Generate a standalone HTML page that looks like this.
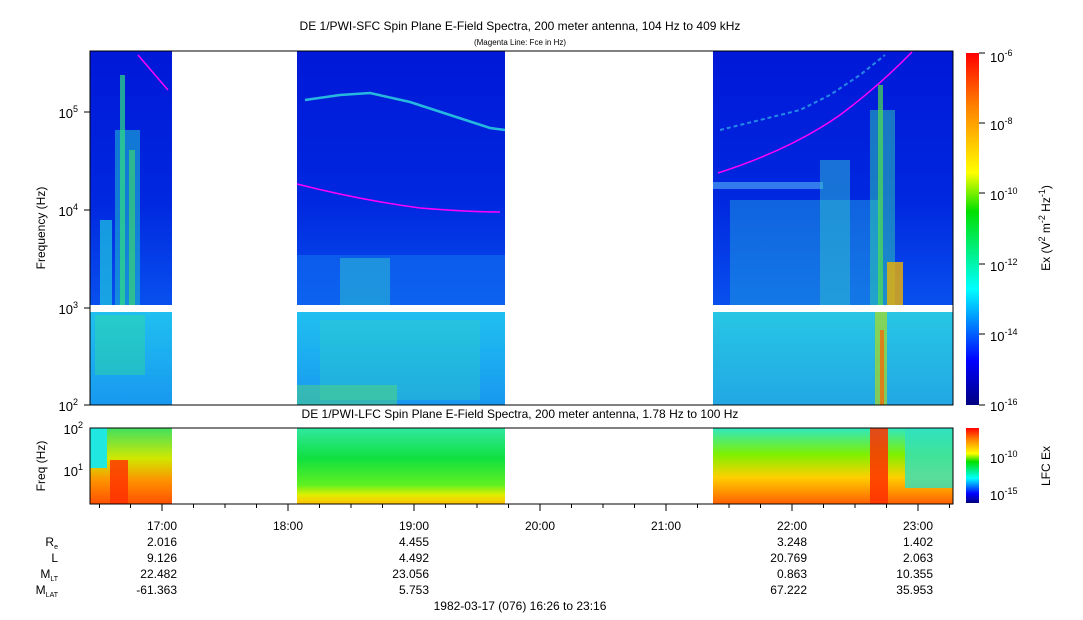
<!DOCTYPE html>
<html><head><style>
body{margin:0;background:#fff;}
svg{display:block;font-family:"Liberation Sans",sans-serif;}
</style></head><body>
<svg width="1083" height="620" viewBox="0 0 1083 620" xmlns="http://www.w3.org/2000/svg">
<defs>
<linearGradient id="cb" x1="0" y1="1" x2="0" y2="0">
<stop offset="0" stop-color="#000080"/><stop offset="0.125" stop-color="#0000ff"/>
<stop offset="0.33" stop-color="#00ffff"/><stop offset="0.55" stop-color="#00e000"/>
<stop offset="0.66" stop-color="#ffff00"/><stop offset="0.85" stop-color="#ff8000"/>
<stop offset="1" stop-color="#ff0000"/></linearGradient>
<linearGradient id="topbg" x1="0" y1="0" x2="0" y2="1">
<stop offset="0" stop-color="#0018d8"/><stop offset="0.6" stop-color="#0028e0"/><stop offset="1" stop-color="#0850ee"/></linearGradient>
<linearGradient id="lowbg" x1="0" y1="0" x2="0" y2="1">
<stop offset="0" stop-color="#20c0f0"/><stop offset="1" stop-color="#1898f0"/></linearGradient>
<linearGradient id="lfc" x1="0" y1="0" x2="0" y2="1">
<stop offset="0" stop-color="#30e8a0"/><stop offset="0.4" stop-color="#10e040"/><stop offset="0.75" stop-color="#60f020"/><stop offset="0.88" stop-color="#e0f000"/><stop offset="1" stop-color="#ffc000"/></linearGradient>
<linearGradient id="lfc1" x1="0" y1="0" x2="0" y2="1">
<stop offset="0" stop-color="#40e060"/><stop offset="0.4" stop-color="#d0e800"/><stop offset="0.7" stop-color="#ff9000"/><stop offset="1" stop-color="#ff5000"/></linearGradient>
<linearGradient id="lfc3" x1="0" y1="0" x2="0" y2="1">
<stop offset="0" stop-color="#30e8c0"/><stop offset="0.35" stop-color="#80f000"/><stop offset="0.65" stop-color="#ffd000"/><stop offset="1" stop-color="#ff6000"/></linearGradient>
</defs>
<text x="520" y="30" font-size="12" text-anchor="middle">DE 1/PWI-SFC  Spin Plane E-Field Spectra, 200 meter antenna, 104 Hz to 409 kHz</text>
<text x="520" y="45" font-size="8" text-anchor="middle">(Magenta Line: Fce in Hz)</text>
<g>
<rect x="90" y="51" width="82" height="254" fill="url(#topbg)"/>
<rect x="297" y="51" width="208" height="254" fill="url(#topbg)"/>
<rect x="713" y="51" width="240" height="254" fill="url(#topbg)"/>
<rect x="90" y="312" width="82" height="93" fill="url(#lowbg)"/>
<rect x="297" y="312" width="208" height="93" fill="url(#lowbg)"/>
<rect x="713" y="312" width="240" height="93" fill="url(#lowbg)"/>
<rect x="100" y="220" width="12" height="85" fill="#20c8e0" opacity="0.7"/>
<rect x="115" y="130" width="25" height="175" fill="#20c0d0" opacity="0.55"/>
<rect x="120" y="75" width="5" height="230" fill="#30e080" opacity="0.7"/>
<rect x="129" y="150" width="6" height="155" fill="#40e060" opacity="0.6"/>
<rect x="95" y="315" width="50" height="60" fill="#30e090" opacity="0.4"/>
<rect x="297" y="255" width="208" height="50" fill="#1070f0" opacity="0.6"/>
<rect x="340" y="258" width="50" height="47" fill="#30c8d0" opacity="0.5"/>
<rect x="320" y="320" width="160" height="80" fill="#30d0c0" opacity="0.35"/>
<rect x="297" y="385" width="100" height="20" fill="#60e060" opacity="0.4"/>
<rect x="713" y="182" width="110" height="7" fill="#4090f0" opacity="0.8"/>
<rect x="730" y="200" width="150" height="105" fill="#20a0e0" opacity="0.5"/>
<rect x="820" y="160" width="30" height="145" fill="#30c0d0" opacity="0.5"/>
<rect x="870" y="110" width="25" height="195" fill="#30d0b0" opacity="0.5"/>
<rect x="878" y="85" width="5" height="220" fill="#50e050" opacity="0.7"/>
<rect x="887" y="262" width="16" height="43" fill="#f0b000" opacity="0.8"/>
<rect x="713" y="312" width="240" height="93" fill="#40d8c0" opacity="0.25"/>
<rect x="875" y="312" width="12" height="93" fill="#c0e000" opacity="0.6"/>
<rect x="880" y="330" width="4" height="75" fill="#ff6000" opacity="0.7"/>
<path d="M305 100 L340 95 L370 93 L410 102 L450 115 L490 128 L505 130" stroke="#30e0e0" stroke-width="2.5" fill="none" opacity="0.8"/>
<path d="M720 130 L760 120 L800 110 L830 95 L860 75 L885 55" stroke="#40d0f0" stroke-width="2" fill="none" opacity="0.6" stroke-dasharray="4 3"/>
<path d="M138 55 Q155 75 168 90" stroke="#ff00ff" stroke-width="1.5" fill="none"/>
<path d="M297 184 Q360 200 420 208 Q470 212 500 212" stroke="#ff00ff" stroke-width="1.5" fill="none"/>
<path d="M718 173 Q790 150 840 115 Q880 85 912 52" stroke="#ff00ff" stroke-width="1.5" fill="none"/>
</g>
<rect x="90" y="305" width="863" height="7" fill="#fff"/>
<rect x="90" y="51" width="863" height="354" fill="none" stroke="#000" stroke-width="1"/>
<g font-size="13" text-anchor="end">
<text x="78" y="118">10<tspan font-size="9" dy="-6">5</tspan></text>
<text x="78" y="216">10<tspan font-size="9" dy="-6">4</tspan></text>
<text x="78" y="314">10<tspan font-size="9" dy="-6">3</tspan></text>
<text x="78" y="411">10<tspan font-size="9" dy="-6">2</tspan></text>
</g>
<g stroke="#000">
<line x1="84" y1="112" x2="90" y2="112"/><line x1="84" y1="210" x2="90" y2="210"/><line x1="84" y1="308" x2="90" y2="308"/><line x1="84" y1="405" x2="90" y2="405"/>
</g>
<text transform="translate(45,228) rotate(-90)" font-size="12" text-anchor="middle">Frequency (Hz)</text>
<rect x="966" y="53" width="13" height="352" fill="url(#cb)"/>
<g stroke="#000"><line x1="979" y1="53" x2="985" y2="53"/><line x1="979" y1="123" x2="985" y2="123"/><line x1="979" y1="193" x2="985" y2="193"/><line x1="979" y1="264" x2="985" y2="264"/><line x1="979" y1="334" x2="985" y2="334"/><line x1="979" y1="405" x2="985" y2="405"/></g>
<g font-size="13">
<text x="990" y="62">10<tspan font-size="9" dy="-6">-6</tspan></text>
<text x="990" y="130">10<tspan font-size="9" dy="-6">-8</tspan></text>
<text x="990" y="200">10<tspan font-size="9" dy="-6">-10</tspan></text>
<text x="990" y="271">10<tspan font-size="9" dy="-6">-12</tspan></text>
<text x="990" y="341">10<tspan font-size="9" dy="-6">-14</tspan></text>
<text x="990" y="411">10<tspan font-size="9" dy="-6">-16</tspan></text>
</g>
<text transform="translate(1050,228) rotate(-90)" font-size="12" text-anchor="middle">Ex (V<tspan font-size="9" dy="-5">2</tspan><tspan dy="5"> m</tspan><tspan font-size="9" dy="-5">-2</tspan><tspan dy="5"> Hz</tspan><tspan font-size="9" dy="-5">-1</tspan><tspan dy="5">)</tspan></text>
<text x="520" y="418" font-size="12" text-anchor="middle">DE 1/PWI-LFC  Spin Plane E-Field Spectra, 200 meter antenna, 1.78 Hz to 100 Hz</text>
<rect x="90" y="428" width="82" height="76" fill="url(#lfc1)"/>
<rect x="90" y="428" width="17" height="40" fill="#20e8e0"/>
<rect x="110" y="460" width="18" height="44" fill="#ff3000" opacity="0.8"/>
<rect x="297" y="428" width="208" height="76" fill="url(#lfc)"/>
<rect x="713" y="428" width="240" height="76" fill="url(#lfc3)"/>
<rect x="870" y="428" width="18" height="76" fill="#ff3000" opacity="0.85"/>
<rect x="905" y="428" width="48" height="60" fill="#30e0c0" opacity="0.8"/>
<rect x="90" y="428" width="863" height="76" fill="none" stroke="#000"/>
<g font-size="13" text-anchor="end">
<text x="83" y="434">10<tspan font-size="9" dy="-6">2</tspan></text>
<text x="83" y="476">10<tspan font-size="9" dy="-6">1</tspan></text>
</g>
<text transform="translate(45,466) rotate(-90)" font-size="12" text-anchor="middle">Freq (Hz)</text>
<rect x="966" y="428" width="13" height="75" fill="url(#cb)"/>
<g font-size="13">
<text x="990" y="463">10<tspan font-size="9" dy="-6">-10</tspan></text>
<text x="990" y="500">10<tspan font-size="9" dy="-6">-15</tspan></text>
</g>
<text transform="translate(1050,466) rotate(-90)" font-size="12" text-anchor="middle">LFC Ex</text>
<g stroke="#000">
<line x1="162" y1="504" x2="162" y2="511"/><line x1="288" y1="504" x2="288" y2="511"/><line x1="414" y1="504" x2="414" y2="511"/><line x1="540" y1="504" x2="540" y2="511"/><line x1="666" y1="504" x2="666" y2="511"/><line x1="792" y1="504" x2="792" y2="511"/><line x1="918" y1="504" x2="918" y2="511"/>
<path d="M99.5 504v4M130.5 504v4M193.5 504v4M225 504v4M256.5 504v4M319.5 504v4M351 504v4M382.5 504v4M445.5 504v4M477 504v4M508.5 504v4M571.5 504v4M603 504v4M634.5 504v4M697.5 504v4M729 504v4M760.5 504v4M823.5 504v4M855 504v4M886.5 504v4M949.5 504v4"/>
</g>
<g font-size="12" text-anchor="middle">
<text x="162" y="530">17:00</text><text x="288" y="530">18:00</text><text x="414" y="530">19:00</text><text x="540" y="530">20:00</text><text x="666" y="530">21:00</text><text x="792" y="530">22:00</text><text x="918" y="530">23:00</text>
</g>
<g font-size="12" text-anchor="end">
<text x="58" y="546">R<tspan font-size="7" dy="3">e</tspan></text>
<text x="58" y="562">L</text>
<text x="58" y="578">M<tspan font-size="7" dy="3">LT</tspan></text>
<text x="58" y="594">M<tspan font-size="7" dy="3">LAT</tspan></text>
<text x="177" y="546">2.016</text><text x="177" y="562">9.126</text><text x="177" y="578">22.482</text><text x="177" y="594">-61.363</text>
<text x="429" y="546">4.455</text><text x="429" y="562">4.492</text><text x="429" y="578">23.056</text><text x="429" y="594">5.753</text>
<text x="807" y="546">3.248</text><text x="807" y="562">20.769</text><text x="807" y="578">0.863</text><text x="807" y="594">67.222</text>
<text x="933" y="546">1.402</text><text x="933" y="562">2.063</text><text x="933" y="578">10.355</text><text x="933" y="594">35.953</text>
</g>
<text x="520" y="610" font-size="12" text-anchor="middle">1982-03-17 (076) 16:26 to 23:16</text>
</svg>
</body></html>
